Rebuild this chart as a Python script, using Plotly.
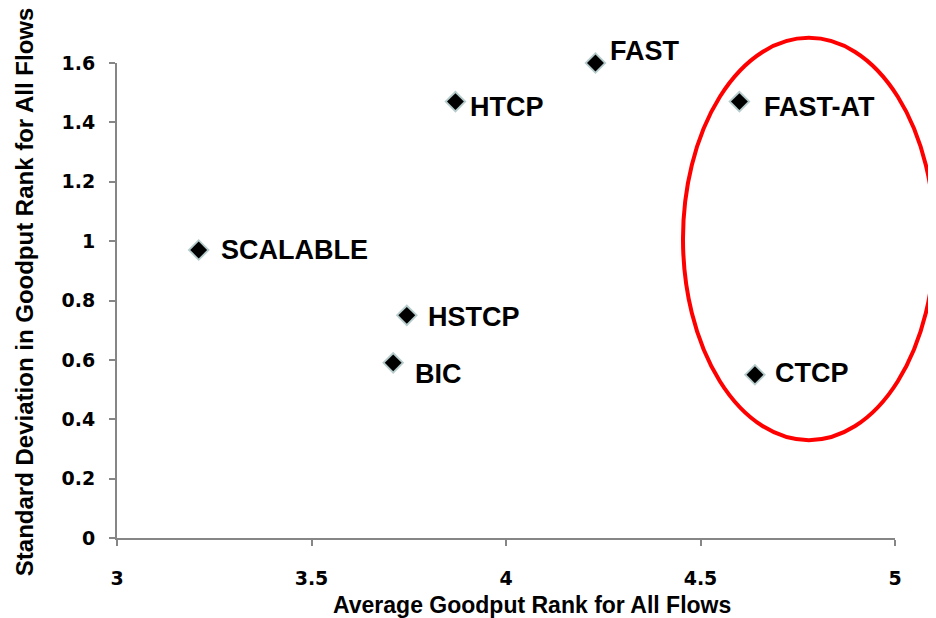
import plotly.graph_objects as go

# data
protocols = ["SCALABLE", "HTCP", "FAST", "FAST-AT", "HSTCP", "BIC", "CTCP"]
avg_rank = [3.21, 3.87, 4.23, 4.60, 3.745, 3.71, 4.64]
std_rank = [0.97, 1.47, 1.60, 1.47, 0.75, 0.59, 0.55]

x_ticks = [3, 3.5, 4, 4.5, 5]
y_ticks = [0, 0.2, 0.4, 0.6, 0.8, 1, 1.2, 1.4, 1.6]

x_title = "Average Goodput Rank for All Flows"
y_title = "Standard Deviation in Goodput Rank for All Flows"

# label offsets in pixels (xshift, yshift)
label_offsets = {
    "SCALABLE": (20, 0),
    "HTCP": (13, -5),
    "FAST": (13, 12),
    "FAST-AT": (23, -5),
    "HSTCP": (19, -2),
    "BIC": (20, -11),
    "CTCP": (18, 2),
}

LABEL_FONT = "Liberation Sans, Arial, sans-serif"
TICK_FONT = "DejaVu Sans, Arial, sans-serif"

fig = go.Figure()

# soft shadow under each marker
fig.add_trace(go.Scatter(
    x=avg_rank, y=std_rank, mode="markers", cliponaxis=False,
    marker=dict(symbol="diamond", size=17, color="#b7cccc", line=dict(width=0)),
    hoverinfo="skip", showlegend=False,
))
fig.add_trace(go.Scatter(
    x=avg_rank, y=std_rank, mode="markers", cliponaxis=False,
    marker=dict(symbol="diamond", size=13, color="black", line=dict(width=0)),
    text=protocols, hovertemplate="%{text}<br>%{x}, %{y}<extra></extra>",
    showlegend=False,
))

for name, xv, yv in zip(protocols, avg_rank, std_rank):
    dx, dy = label_offsets[name]
    fig.add_annotation(
        x=xv, y=yv, text=f"<b>{name}</b>", showarrow=False,
        xanchor="left", yanchor="middle", xshift=dx, yshift=dy,
        font=dict(family=LABEL_FONT, size=27, color="black"),
    )

# axis titles (placed as annotations, slightly off-centre like the original)
fig.add_annotation(
    text=f"<b>{x_title}</b>", xref="paper", yref="paper", x=0.533, y=-0.141,
    xanchor="center", yanchor="middle", showarrow=False,
    font=dict(family=LABEL_FONT, size=23, color="black"),
)
fig.add_annotation(
    text=f"<b>{y_title}</b>", xref="paper", yref="paper", x=-0.118, y=0.518,
    xanchor="center", yanchor="middle", showarrow=False, textangle=-90,
    font=dict(family=LABEL_FONT, size=24, color="black"),
)

# red ellipse around FAST-AT and CTCP
fig.add_shape(
    type="circle", xref="paper", yref="paper",
    x0=0.7275, x1=1.051, y0=0.206, y1=1.053,
    line=dict(color="#ff0000", width=4),
)

axis_style = dict(
    showgrid=False, zeroline=False, showline=True,
    linecolor="#868686", linewidth=2,
    ticks="outside", tickcolor="#868686", tickwidth=2, ticklen=6,
    tickfont=dict(family=TICK_FONT, size=19, color="black", weight="bold"),
)

fig.update_xaxes(
    range=[3, 5], tickvals=x_ticks, ticktext=[f"{v:g}" for v in x_ticks],
    ticklabelstandoff=16, **axis_style,
)
fig.update_yaxes(
    range=[0, 1.6], tickvals=y_ticks, ticktext=[f"{v:g}" for v in y_ticks],
    ticklabelstandoff=10, **axis_style,
)

fig.update_layout(
    width=936, height=618,
    margin=dict(l=109, r=49, t=55, b=88),
    plot_bgcolor="white", paper_bgcolor="white",
    showlegend=False,
)

fig.write_html("out.html")
